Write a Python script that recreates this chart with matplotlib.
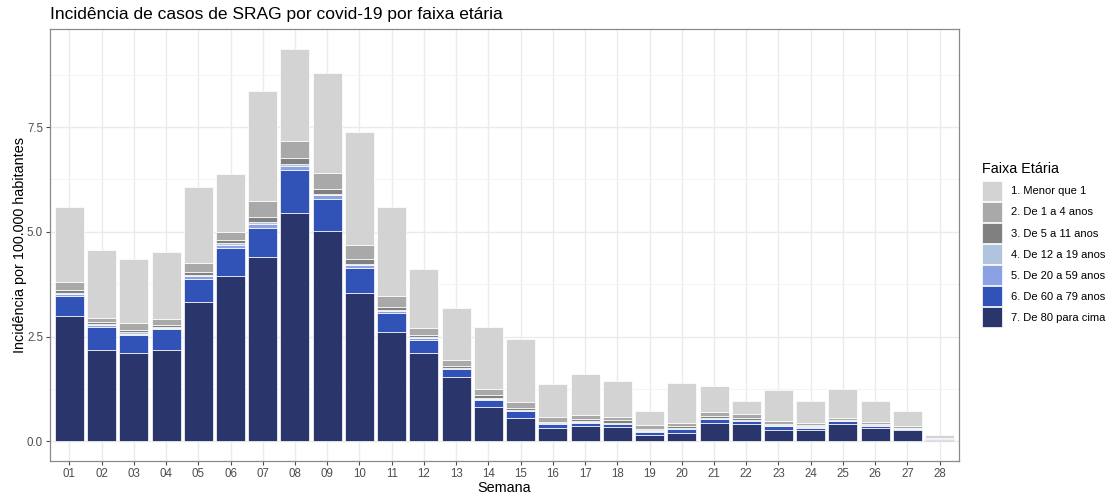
import matplotlib
matplotlib.use("Agg")
import matplotlib.pyplot as plt
import numpy as np
from matplotlib.patches import Patch

plt.rcParams["font.family"] = ["Liberation Sans", "DejaVu Sans"]

semanas = [f"{i:02d}" for i in range(1, 29)]

faixas = [
    "1. Menor que 1",
    "2. De 1 a 4 anos",
    "3. De 5 a 11 anos",
    "4. De 12 a 19 anos",
    "5. De 20 a 59 anos",
    "6. De 60 a 79 anos",
    "7. De 80 para cima",
]
cores = ["#D3D3D3", "#A9A9A9", "#808080", "#B0C4DE", "#8CA0E4", "#3153B8", "#29356B"]

# incidencia por faixa (por 100.000 hab.), semanas 01-28
menor_1 = [1.79, 1.62, 1.52, 1.59, 1.81, 1.39, 2.63, 2.20, 2.40, 2.70,
           2.11, 1.41, 1.26, 1.48, 1.50, 0.78, 0.96, 0.85, 0.34, 0.94,
           0.62, 0.32, 0.74, 0.54, 0.68, 0.50, 0.36, 0.07]
de_1_4 = [0.18, 0.10, 0.17, 0.16, 0.22, 0.20, 0.38, 0.42, 0.37, 0.34,
          0.26, 0.16, 0.12, 0.16, 0.15, 0.11, 0.10, 0.08, 0.08, 0.09,
          0.09, 0.09, 0.07, 0.04, 0.04, 0.05, 0.03, 0.005]
de_5_11 = [0.07, 0.03, 0.05, 0.04, 0.06, 0.07, 0.11, 0.14, 0.12, 0.10,
           0.07, 0.06, 0.05, 0.06, 0.04, 0.03, 0.05, 0.05, 0.04, 0.04,
           0.05, 0.04, 0.03, 0.03, 0.02, 0.02, 0.02, 0.005]
de_12_19 = [0.03, 0.03, 0.03, 0.02, 0.04, 0.04, 0.05, 0.05, 0.04, 0.04,
            0.03, 0.02, 0.02, 0.02, 0.02, 0.01, 0.02, 0.01, 0.02, 0.01,
            0.01, 0.01, 0.01, 0.01, 0.01, 0.01, 0.01, 0.005]
de_20_59 = [0.05, 0.05, 0.04, 0.04, 0.06, 0.07, 0.09, 0.09, 0.08, 0.06,
            0.05, 0.03, 0.02, 0.03, 0.02, 0.02, 0.02, 0.02, 0.02, 0.02,
            0.01, 0.02, 0.01, 0.02, 0.01, 0.01, 0.01, 0.005]
de_60_79 = [0.49, 0.56, 0.41, 0.50, 0.55, 0.67, 0.69, 1.02, 0.77, 0.60,
            0.46, 0.32, 0.18, 0.17, 0.16, 0.09, 0.09, 0.08, 0.08, 0.08,
            0.08, 0.07, 0.10, 0.07, 0.07, 0.04, 0.03, 0.02]
de_80_mais = [2.98, 2.17, 2.12, 2.17, 3.33, 3.95, 4.41, 5.45, 5.02, 3.54,
              2.60, 2.11, 1.54, 0.82, 0.56, 0.32, 0.36, 0.34, 0.14, 0.21,
              0.45, 0.42, 0.26, 0.26, 0.41, 0.33, 0.26, 0.03]

series = [menor_1, de_1_4, de_5_11, de_12_19, de_20_59, de_60_79, de_80_mais]

fig = plt.figure(figsize=(11.13, 4.94), dpi=100)
ax = fig.add_axes([50 / 1113, 33 / 494, 909 / 1113, 432 / 494])

x = np.arange(1, len(semanas) + 1)
bottom = np.zeros(len(semanas))
# empilha de baixo (80+) para cima (menor que 1)
for vals, cor in zip(series[::-1], cores[::-1]):
    vals = np.array(vals)
    ax.bar(x, vals, width=0.9, bottom=bottom, color=cor,
           edgecolor="white", linewidth=0.5, zorder=3)
    bottom += vals

top = bottom.max()
ax.set_xlim(0.4, len(semanas) + 0.6)
ax.set_ylim(-0.05 * top, top * 1.05)
ax.set_xticks(x)
ax.set_xticklabels(semanas)
ax.set_yticks([0, 2.5, 5, 7.5])
ax.set_yticklabels(["0.0", "2.5", "5.0", "7.5"])
ax.set_yticks([1.25, 3.75, 6.25, 8.75], minor=True)
ax.tick_params(axis="both", which="major", labelsize=8.3, colors="#4d4d4d",
               length=3, width=0.8, pad=2)
ax.tick_params(axis="y", which="minor", length=0)
ax.grid(True, which="major", color="#EBEBEB", linewidth=1.0, zorder=0)
ax.grid(True, which="minor", axis="y", color="#F2F2F2", linewidth=0.6, zorder=0)
for s in ax.spines.values():
    s.set_color("#8a8a8a")
    s.set_linewidth(0.9)

ax.set_xlabel("Semana", fontsize=10.4, labelpad=1)
ax.set_ylabel("Incidência por 100.000 habitantes", fontsize=10.4, labelpad=0)
fig.text(50 / 1113, 1 - 14 / 494, "Incidência de casos de SRAG por covid-19 por faixa etária",
         fontsize=12.5, va="center", ha="left")

handles = [Patch(facecolor=c, edgecolor="white", linewidth=0.5) for c in cores]
leg = fig.legend(handles, faixas, loc="upper left",
                 bbox_to_anchor=(982 / 1113, 1 - 162 / 494),
                 frameon=False, fontsize=8.0, title="Faixa Etária",
                 title_fontsize=10.4, handlelength=1.8, handleheight=2.4,
                 labelspacing=0.09, handletextpad=0.8, borderpad=0,
                 borderaxespad=0, alignment="left")
leg._legend_box.sep = 3.6  # a bit more room under the title

fig.savefig("out.png", dpi=100)
